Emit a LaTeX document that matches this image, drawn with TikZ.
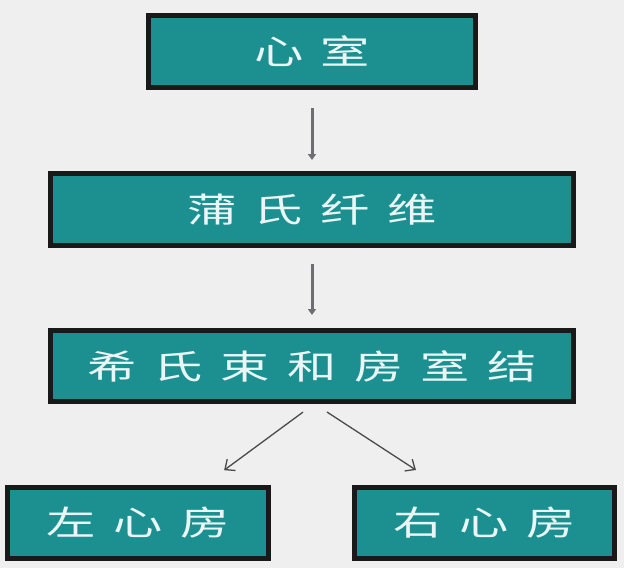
\documentclass[tikz,border=0pt]{standalone}
\usepackage{fontspec}
\newfontfamily\cjk{Noto Sans CJK SC}
\usetikzlibrary{arrows.meta}
\definecolor{bg}{HTML}{EFEFEF}
\definecolor{teal1}{HTML}{1C9090}
\definecolor{txt}{HTML}{EAF6F6}
\definecolor{arrgray}{HTML}{6E6E72}
\definecolor{arrdark}{HTML}{4A4A4A}
\newcommand\gapx{\hspace{12pt}}
\newcommand\wide[1]{\scalebox{1.45}[1]{#1}}
\tikzset{
  box/.style={draw=black!90, line width=5pt, fill=teal1, text=txt,
    font=\cjk\fontsize{34}{34}\selectfont, inner sep=0pt, anchor=center},
  varr/.style={draw=arrgray, line width=3pt, -{Triangle[length=6pt,width=8pt]}},
  darr/.style={draw=arrdark, line width=1.3pt, -{Straight Barb[length=8pt,width=14pt]}}
}
\begin{document}
\begin{tikzpicture}[x=1pt,y=-1pt]
\fill[bg] (0,0) rectangle (624,568);
\useasboundingbox (0,0) rectangle (624,568);
\node[box, minimum width=327pt, minimum height=72pt] (b1) at (312,51.5) {\wide{心\gapx 室}};
\node[box, minimum width=523pt, minimum height=72pt] (b2) at (312,209.5) {\wide{蒲\gapx 氏\gapx 纤\gapx 维}};
\node[box, minimum width=523pt, minimum height=71pt] (b3) at (312,366) {\wide{希\gapx 氏\gapx 束\gapx 和\gapx 房\gapx 室\gapx 结}};
\node[box, minimum width=261pt, minimum height=71pt] (b4) at (138,523) {\wide{左\gapx 心\gapx 房}};
\node[box, minimum width=260pt, minimum height=71pt] (b5) at (484.5,523) {\wide{右\gapx 心\gapx 房}};
\draw[varr, shorten <=18pt, shorten >=11pt] (b1.south) -- (b2.north);
\draw[varr, shorten <=16pt, shorten >=13pt] (b2.south) -- (b3.north);
\draw[darr, shorten <=13.6pt, shorten >=25pt] ([xshift=2pt]b3.south) -- ([xshift=66pt]b4.north);
\draw[darr, shorten <=14.7pt, shorten >=27.5pt] ([xshift=2.7pt]b3.south) -- ([xshift=-45.5pt]b5.north);
\end{tikzpicture}
\end{document}
